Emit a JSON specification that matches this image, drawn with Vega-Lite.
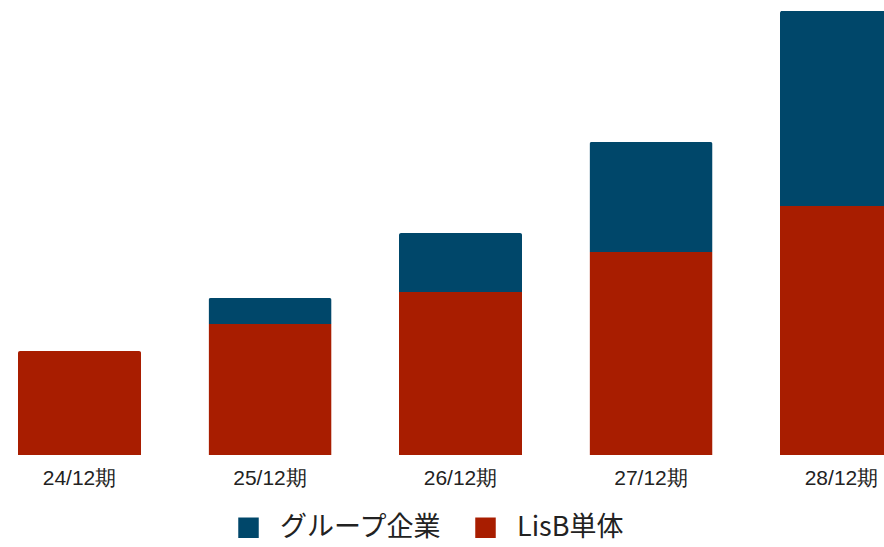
{
  "$schema": "https://vega.github.io/schema/vega-lite/v6.json",
  "width": 884,
  "height": 455,
  "autosize": {"type": "none"},
  "padding": {"left": 0, "top": 0, "right": 0, "bottom": 92},
  "background": "white",
  "config": {"view": {"stroke": null}},
  "data": {
    "values": [
      {"period": "24/12期", "series": "LisB単体", "value": 104},
      {"period": "25/12期", "series": "LisB単体", "value": 131},
      {"period": "25/12期", "series": "グループ企業", "value": 26},
      {"period": "26/12期", "series": "LisB単体", "value": 163},
      {"period": "26/12期", "series": "グループ企業", "value": 59},
      {"period": "27/12期", "series": "LisB単体", "value": 203},
      {"period": "27/12期", "series": "グループ企業", "value": 110},
      {"period": "28/12期", "series": "LisB単体", "value": 249},
      {"period": "28/12期", "series": "グループ企業", "value": 195}
    ]
  },
  "mark": {"type": "bar", "cornerRadiusEnd": 2},
  "encoding": {
    "x": {
      "field": "period",
      "type": "nominal",
      "sort": null,
      "scale": {"rangeMin": 0, "rangeMax": 921, "paddingInner": 0.354, "paddingOuter": 0.0945},
      "axis": {
        "title": null,
        "labelAngle": 0,
        "ticks": false,
        "domain": false,
        "labelPadding": 12,
        "labelFont": "Liberation Sans",
        "labelFontSize": 21,
        "labelColor": "#222222"
      }
    },
    "y": {
      "field": "value",
      "type": "quantitative",
      "stack": "zero",
      "scale": {"domain": [0, 455], "nice": false},
      "axis": null
    },
    "color": {
      "field": "series",
      "type": "nominal",
      "scale": {"domain": ["グループ企業", "LisB単体"], "range": ["#00476A", "#A81D00"]},
      "legend": {
        "title": null,
        "orient": "none",
        "legendX": 235,
        "legendY": 514,
        "direction": "horizontal",
        "symbolType": "square",
        "symbolSize": 420,
        "symbolStrokeWidth": 0,
        "labelFont": "Noto Sans CJK JP",
        "labelFontSize": 27,
        "labelLimit": 400,
        "labelColor": "#222222",
        "columnPadding": 30,
        "symbolOffset": 0,
        "labelOffset": 18
      }
    },
    "order": {"field": "series", "sort": "ascending"}
  }
}
